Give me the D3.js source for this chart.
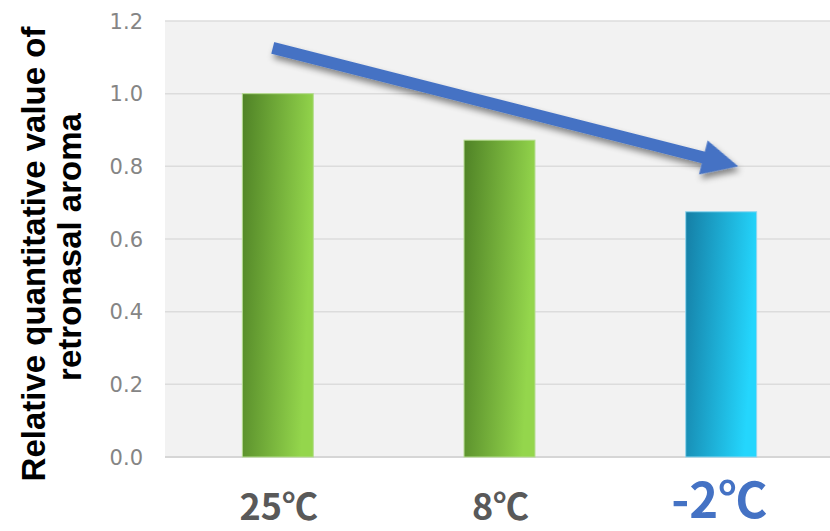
<!DOCTYPE html>
<html>
<head>
<meta charset="utf-8">
<script src="https://cdn.jsdelivr.net/npm/d3@7"></script>
<style>
  html, body { margin: 0; padding: 0; background: #ffffff; }
  svg { display: block; }
</style>
</head>
<body>
<svg id="chart" width="830" height="531"></svg>
<script>
// Retronasal aroma by serving temperature
const categories = ["25℃", "8℃", "-2℃"];
const values = [1.0, 0.872, 0.675];
const yTicks = [0.0, 0.2, 0.4, 0.6, 0.8, 1.0, 1.2];
const yTitleLines = ["Relative quantitative value of", "retronasal aroma"];
// trend arrow: from above the first bar down to the last one
const trendFrom = { category: "25℃", value: 1.126, shift: -0.023 };
const trendTo = { category: "-2℃", value: 0.80, shift: 0.077 };

const W = 830, H = 531;
const plot = { left: 165, right: 830, top: 21, bottom: 457 };

const svg = d3.select("#chart");
const defs = svg.append("defs");

const x = d3.scaleBand()
  .domain(categories)
  .range([plot.left + 2, plot.right + 2])
  .paddingInner(0.68)
  .paddingOuter(0.34);

const y = d3.scaleLinear()
  .domain([0, 1.2])
  .range([plot.bottom, plot.top]);

// gradients
function grad(id, stops) {
  const g = defs.append("linearGradient").attr("id", id)
    .attr("x1", 0).attr("y1", 0).attr("x2", 1).attr("y2", 0.22);
  stops.forEach(([o, c]) => g.append("stop").attr("offset", o).attr("stop-color", c));
}
grad("gGreen", [[0, "#4f8226"], [1, "#94d64c"]]);
grad("gBlue", [[0, "#157ea5"], [1, "#24d6fd"]]);

const shadow = defs.append("filter").attr("id", "shadow")
  .attr("x", "-10%").attr("y", "-50%").attr("width", "130%").attr("height", "200%");
shadow.append("feDropShadow")
  .attr("dx", 3).attr("dy", 4).attr("stdDeviation", 3)
  .attr("flood-color", "#000").attr("flood-opacity", 0.45);

// plot background
svg.append("rect")
  .attr("x", plot.left).attr("y", plot.top)
  .attr("width", plot.right - plot.left).attr("height", plot.bottom - plot.top)
  .attr("fill", "#f2f2f2");

// gridlines
svg.append("g").selectAll("line").data(yTicks).join("line")
  .attr("x1", plot.left).attr("x2", plot.right)
  .attr("y1", d => y(d)).attr("y2", d => y(d))
  .attr("stroke", d => d === 0 ? "#d6d6d6" : "#dcdcdc")
  .attr("stroke-width", d => d === 0 ? 2 : 1.5);

// y tick labels
svg.append("g").selectAll("text").data(yTicks).join("text")
  .attr("x", 143).attr("y", d => y(d))
  .attr("dy", "0.36em")
  .attr("text-anchor", "end")
  .attr("font-family", "'DejaVu Sans', Verdana, sans-serif")
  .attr("font-size", 21)
  .attr("fill", "#858585")
  .text(d => d.toFixed(1));

// bars
svg.append("g").selectAll("rect").data(categories).join("rect")
  .attr("x", d => x(d))
  .attr("y", (d, i) => y(values[i]))
  .attr("width", x.bandwidth())
  .attr("height", (d, i) => y(0) - y(values[i]))
  .attr("fill", (d, i) => i === 2 ? "url(#gBlue)" : "url(#gGreen)")
  .attr("stroke", (d, i) => i === 2 ? "#8fd6ef" : "#b5dc8f")
  .attr("stroke-width", 1);

// x category labels
svg.append("g").selectAll("text").data(categories).join("text")
  .attr("x", d => x(d) + x.bandwidth() / 2 + (d === "-2℃" ? -2 : 1))
  .attr("y", (d, i) => i === 2 ? 518 : 520)
  .attr("text-anchor", "middle")
  .attr("font-family", "'Noto Sans CJK JP', sans-serif")
  .attr("font-weight", 700)
  .attr("font-size", (d, i) => i === 2 ? 49 : 36)
  .attr("fill", (d, i) => i === 2 ? "#4472c4" : "#595959")
  .text(d => d);

// y axis title
const titleX = [45, 81];
const titleY = [254, 247];
svg.append("g").selectAll("text").data(yTitleLines).join("text")
  .attr("transform", (d, i) => `translate(${titleX[i]},${titleY[i]}) rotate(-90)`)
  .attr("text-anchor", "middle")
  .attr("font-family", "'Liberation Sans', Arial, sans-serif")
  .attr("font-weight", 700)
  .attr("font-size", 33)
  .attr("fill", "#000")
  .text(d => d);

// trend arrow
const p0 = [x(trendFrom.category) + x.bandwidth() / 2 + trendFrom.shift * x.step(), y(trendFrom.value)];
const p1 = [x(trendTo.category) + x.bandwidth() / 2 + trendTo.shift * x.step(), y(trendTo.value)];
const len = Math.hypot(p1[0] - p0[0], p1[1] - p0[1]);
const ang = Math.atan2(p1[1] - p0[1], p1[0] - p0[0]) * 180 / Math.PI;
const shaft = 6, headLen = 36, headHalf = 17.5;
const arrowPts = [
  [0, -shaft], [len - headLen, -shaft], [len - headLen, -headHalf],
  [len, 0], [len - headLen, headHalf], [len - headLen, shaft], [0, shaft]
];
svg.append("path")
  .attr("transform", `translate(${p0[0]},${p0[1]}) rotate(${ang})`)
  .attr("d", d3.line()(arrowPts) + "Z")
  .attr("fill", "#4472c4")
  .attr("filter", "url(#shadow)");
</script>
</body>
</html>
